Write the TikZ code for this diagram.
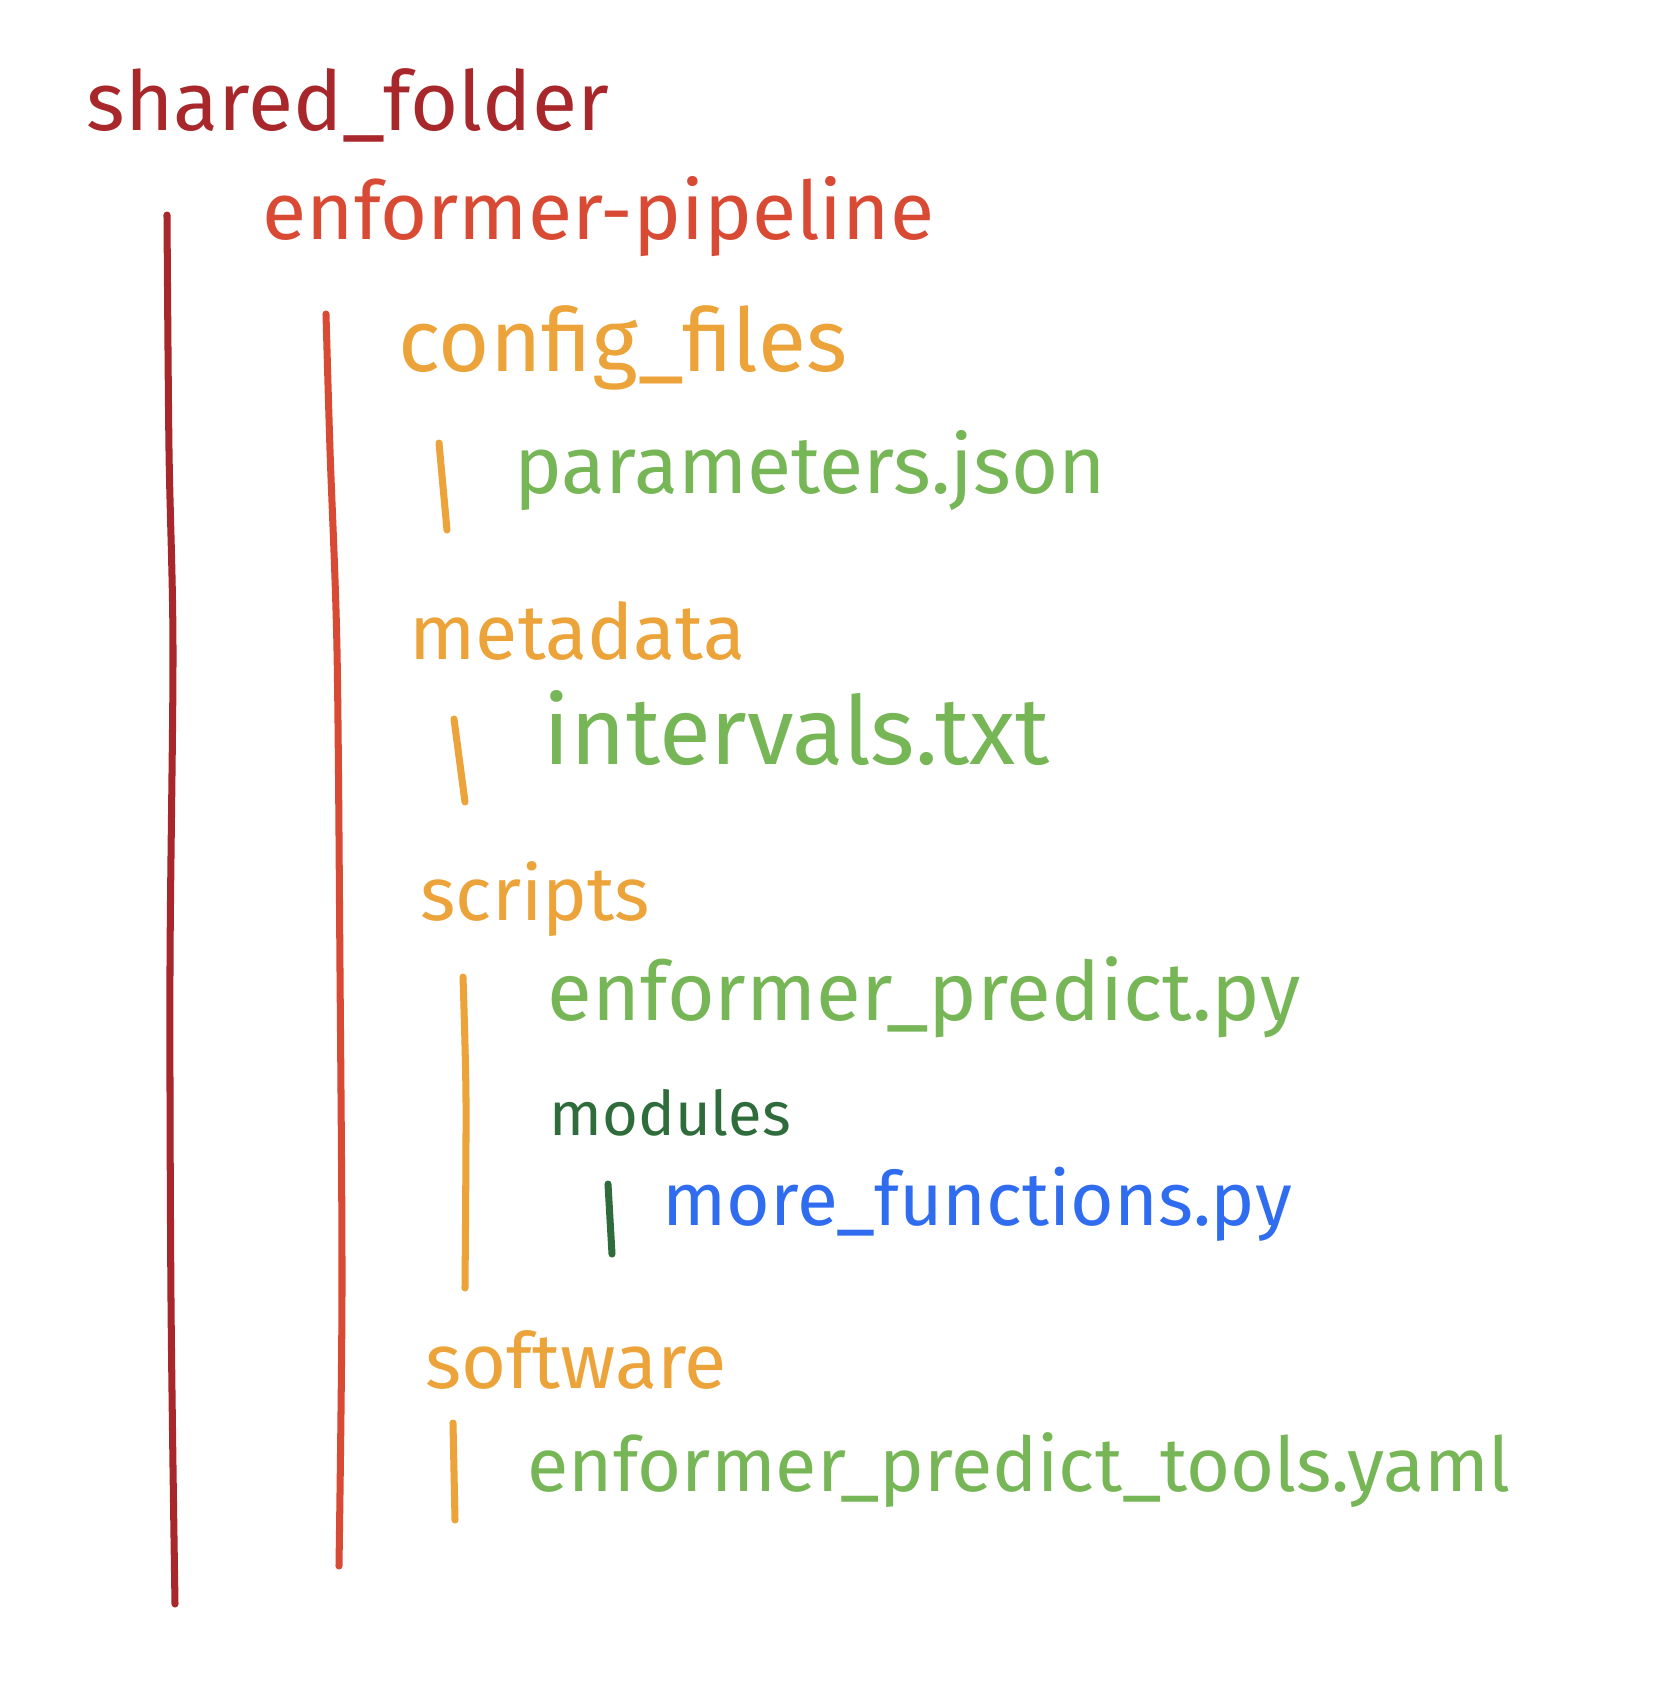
\documentclass[tikz,border=0pt]{standalone}
\usepackage{fontspec}
\setmainfont{Fira Sans}
\usepackage{xcolor}
\usepackage{tikz}
\usetikzlibrary{positioning}

\definecolor{rootred}{HTML}{A8272A}
\definecolor{pipered}{HTML}{D94A35}
\definecolor{dirorange}{HTML}{EBA33A}
\definecolor{filegreen}{HTML}{77B656}
\definecolor{moddarkgreen}{HTML}{2E6D3B}
\definecolor{pyblue}{HTML}{2F6CF0}

\tikzset{
  entry/.style={anchor=base west, inner sep=0pt, font=\fontsize{#1}{#1}\selectfont},
  entry/.default=22,
  bar/.style={line width=2pt, line cap=round}
}

\begin{document}
\begin{tikzpicture}
\useasboundingbox (0,0) rectangle (16.66,-16.88);

% names
\node[entry=23.5, text=rootred] (shared) at (0.86,-1.30) {shared\_folder};
\node[entry=23, text=pipered] (pipeline) at (2.62,-2.39) {enformer-pipeline};
\node[entry=25, text=dirorange] (config) at (3.98,-3.71) {config\_files};
\node[entry=23, text=filegreen] (params) at (5.14,-4.93) {parameters.json};
\node[entry=22, text=dirorange] (meta) at (4.09,-6.59) {metadata};
\node[entry=27, text=filegreen] (intervals) at (5.43,-7.64) {intervals.txt};
\node[entry=21.5, text=dirorange] (scripts) at (4.20,-9.20) {scripts};
\node[entry=23.3, text=filegreen] (predict) at (5.47,-10.20) {enformer\_predict.py};
\node[entry=17.5, text=moddarkgreen] (modules) at (5.49,-11.35) {modules};
\node[entry=21.3, text=pyblue] (morefn) at (6.62,-12.25) {more\_functions.py};
\node[entry=22, text=dirorange] (software) at (4.25,-13.88) {software};
\node[entry=21.5, text=filegreen] (tools) at (5.27,-14.91) {enformer\_predict\_tools.yaml};

% bars
\draw[bar, rootred] plot[smooth] coordinates {(1.67,-2.15) (1.69,-4.5) (1.73,-6.5) (1.70,-9.7) (1.71,-13.0) (1.75,-16.04)};
\draw[bar, pipered] plot[smooth] coordinates {(3.26,-3.14) (3.30,-4.5) (3.37,-6.5) (3.40,-9.7) (3.42,-12.9) (3.39,-15.66)};
\draw[bar, dirorange] (4.39,-4.43) -- (4.47,-5.30);
\draw[bar, dirorange] (4.54,-7.19) -- (4.65,-8.02);
\draw[bar, dirorange] plot[smooth] coordinates {(4.63,-9.77) (4.66,-11.0) (4.65,-12.88)};
\draw[bar, moddarkgreen] (6.08,-11.84) -- (6.12,-12.54);
\draw[bar, dirorange] (4.53,-14.23) -- (4.55,-15.20);
\end{tikzpicture}
\end{document}
